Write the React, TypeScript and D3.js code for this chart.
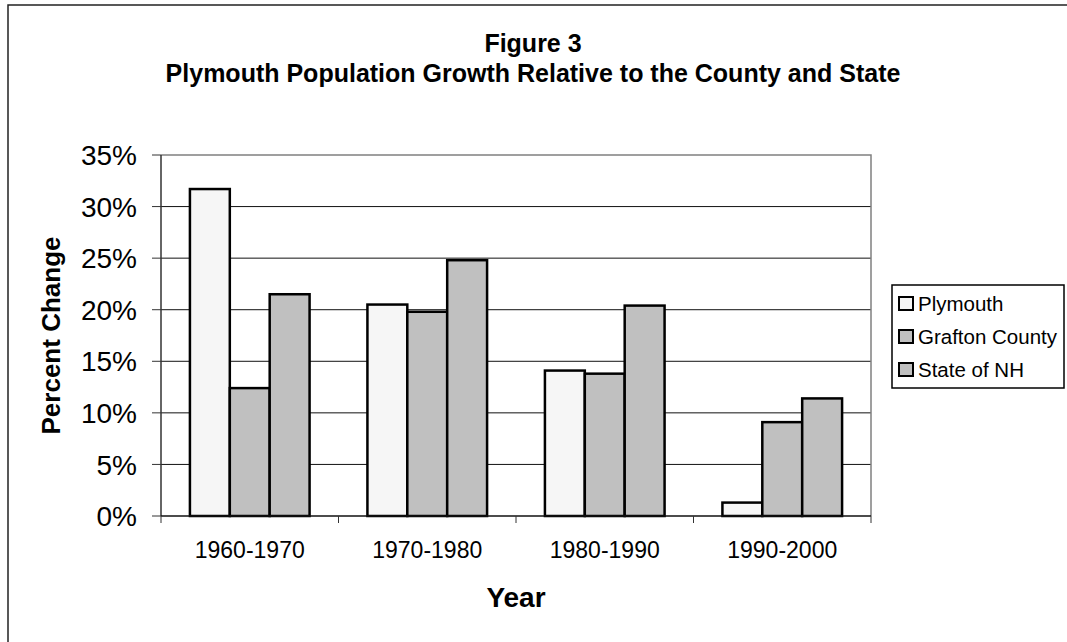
import React from "react";
import * as d3 from "d3";

const categories = ["1960-1970", "1970-1980", "1980-1990", "1990-2000"];
const seriesNames = ["Plymouth", "Grafton County", "State of NH"];
const plymouth = [31.7, 20.5, 14.1, 1.3];
const grafton = [12.4, 19.8, 13.8, 9.1];
const stateNH = [21.5, 24.8, 20.4, 11.4];
const yTicks = [0, 5, 10, 15, 20, 25, 30, 35];
const fills = ["#f6f6f6", "#c0c0c0", "#c0c0c0"];

const W = 1067;
const H = 642;
const PLOT = { left: 161, right: 871, top: 155, bottom: 516 };
const FONT = "'Liberation Sans', Arial, sans-serif";

export default function App() {
  const series = [plymouth, grafton, stateNH];

  const x = d3
    .scaleBand<string>()
    .domain(categories)
    .range([PLOT.left, PLOT.right])
    .padding(0);
  const y = d3.scaleLinear().domain([0, 35]).range([PLOT.bottom, PLOT.top]);

  const catW = x.bandwidth();
  const barW = catW / 4.45;
  const inner = d3
    .scaleBand<number>()
    .domain([0, 1, 2])
    .range([-1.5 * barW, 1.5 * barW]);

  const boundaries = d3.range(categories.length + 1).map(
    (i) => PLOT.left + i * catW,
  );

  return (
    <svg
      width={W}
      height={H}
      style={{ position: "absolute", left: 0, top: 0, background: "#fff" }}
      fontFamily={FONT}
    >
      {/* chart frame, clipped at right and bottom */}
      <rect x={8} y={5} width={1200} height={800} fill="#fff" stroke="#222" strokeWidth={1.5} />

      {/* title */}
      <text x={533} y={52} textAnchor="middle" fontSize={25} fontWeight="bold">
        Figure 3
      </text>
      <text x={533} y={82} textAnchor="middle" fontSize={25} fontWeight="bold">
        Plymouth Population Growth Relative to the County and State
      </text>

      {/* gridlines */}
      {yTicks.slice(1, -1).map((t) => (
        <line
          key={t}
          x1={PLOT.left}
          x2={PLOT.right}
          y1={y(t)}
          y2={y(t)}
          stroke="#111"
          strokeWidth={1}
        />
      ))}

      {/* plot border (top/right) */}
      <path
        d={`M${PLOT.left},${PLOT.top}H${PLOT.right}V${PLOT.bottom}`}
        fill="none"
        stroke="#808080"
        strokeWidth={1.5}
      />

      {/* bars */}
      {series.map((vals, si) =>
        vals.map((v, ci) => {
          const cx = (x(categories[ci]) as number) + catW / 2;
          return (
            <rect
              key={`${si}-${ci}`}
              x={cx + (inner(si) as number)}
              y={y(v)}
              width={inner.bandwidth()}
              height={y(0) - y(v)}
              fill={fills[si]}
              stroke="#000"
              strokeWidth={2.5}
            />
          );
        }),
      )}

      {/* y axis */}
      <line x1={PLOT.left} x2={PLOT.left} y1={PLOT.top} y2={PLOT.bottom} stroke="#333" strokeWidth={1.5} />
      {yTicks.map((t) => (
        <g key={t}>
          <line x1={PLOT.left - 9} x2={PLOT.left} y1={y(t)} y2={y(t)} stroke="#333" strokeWidth={1} />
          <text
            x={137}
            y={y(t)}
            dy="0.36em"
            textAnchor="end"
            fontSize={28}
          >
            {t}%
          </text>
        </g>
      ))}

      {/* x axis */}
      <line x1={PLOT.left} x2={PLOT.right} y1={PLOT.bottom} y2={PLOT.bottom} stroke="#111" strokeWidth={1.5} />
      {boundaries.map((bx, i) => (
        <line key={i} x1={bx} x2={bx} y1={PLOT.bottom} y2={PLOT.bottom + 7} stroke="#333" strokeWidth={1} />
      ))}
      {categories.map((c) => (
        <text
          key={c}
          x={(x(c) as number) + catW / 2}
          y={558}
          textAnchor="middle"
          fontSize={23}
        >
          {c}
        </text>
      ))}

      {/* axis titles */}
      <text x={(PLOT.left + PLOT.right) / 2} y={607} textAnchor="middle" fontSize={28} fontWeight="bold">
        Year
      </text>
      <text
        transform={`translate(60,${(PLOT.top + PLOT.bottom) / 2}) rotate(-90)`}
        textAnchor="middle"
        fontSize={26}
        fontWeight="bold"
      >
        Percent Change
      </text>

      {/* legend */}
      <rect x={892} y={285} width={172} height={103} fill="#fff" stroke="#000" strokeWidth={1.5} />
      {seriesNames.map((name, i) => {
        const base = 311 + i * 33;
        return (
          <g key={name}>
            <rect x={899} y={base - 14} width={14} height={13} fill={fills[i]} stroke="#000" strokeWidth={2} />
            <text x={918} y={base} fontSize={20.5}>
              {name}
            </text>
          </g>
        );
      })}
    </svg>
  );
}
